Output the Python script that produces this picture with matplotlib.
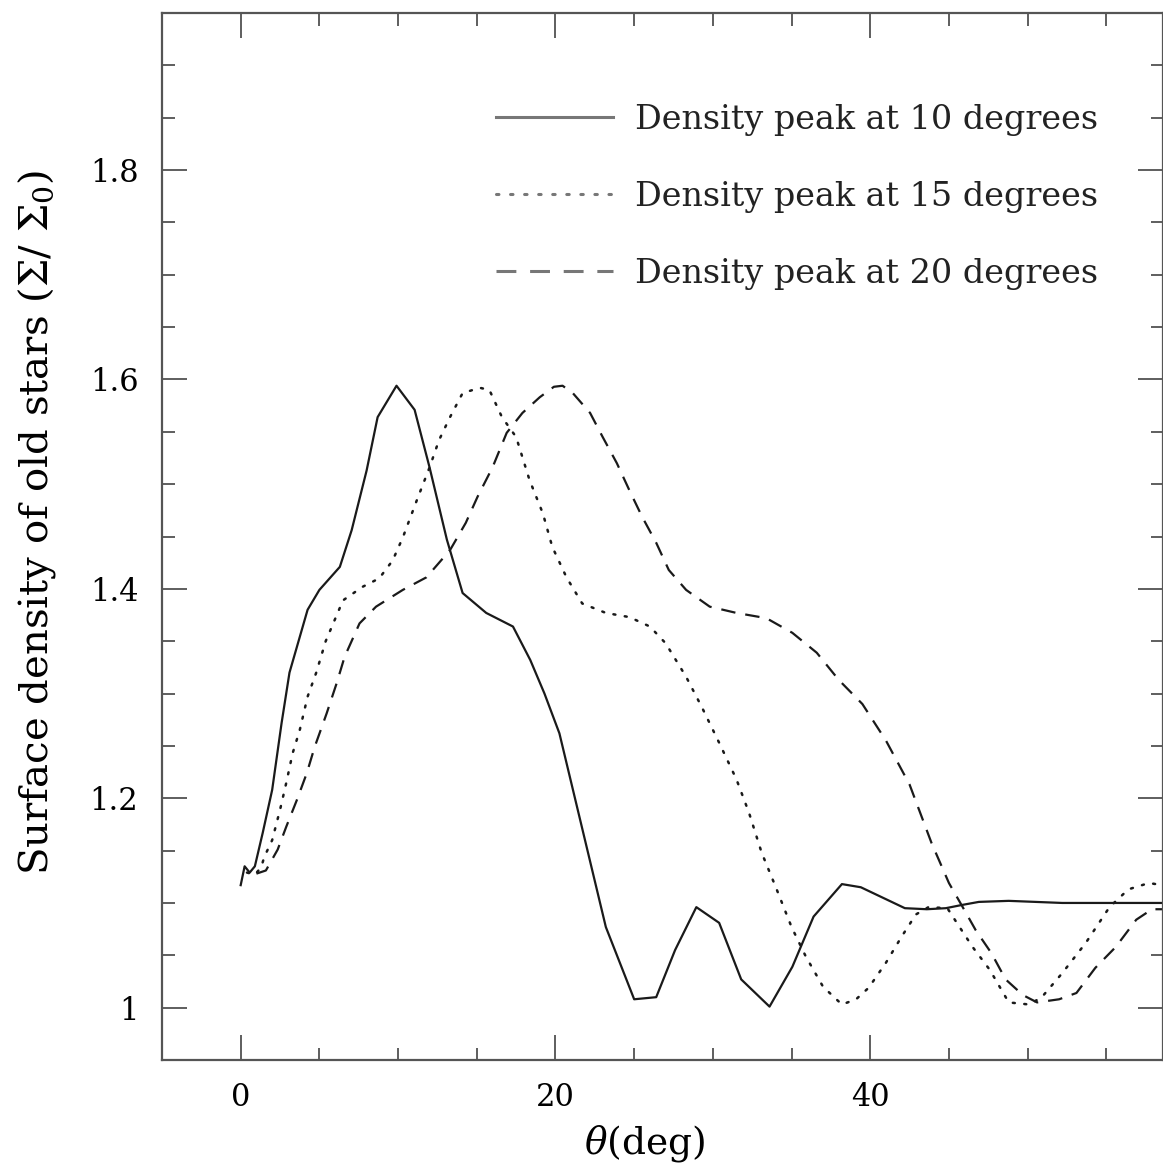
import numpy as np
import matplotlib
matplotlib.use("Agg")
import matplotlib.pyplot as plt
from matplotlib.ticker import MultipleLocator, FixedLocator, FixedFormatter

# density peak at 10 degrees (solid)
theta_10 = [0.0, 0.25, 0.57, 0.9, 1.4, 2.0, 2.6, 3.1, 4.25, 5.0, 6.3, 7.05, 8.0, 8.7,
            9.9, 11.05, 12.0, 13.1, 14.1, 15.6, 17.3, 18.4, 19.3, 20.25, 23.2, 25.0,
            26.4, 27.6, 28.95, 30.4, 31.8, 33.6, 35.05, 36.4, 38.2, 39.4, 40.8, 42.2,
            43.6, 44.8, 45.8, 46.9, 48.8, 52.2, 58.6]
sigma_10 = [1.117, 1.135, 1.129, 1.135, 1.167, 1.208, 1.272, 1.320, 1.380, 1.399, 1.421,
            1.456, 1.513, 1.564, 1.594, 1.571, 1.516, 1.447, 1.396, 1.377, 1.364, 1.332,
            1.300, 1.262, 1.077, 1.008, 1.010, 1.055, 1.096, 1.081, 1.027, 1.001, 1.039,
            1.087, 1.118, 1.115, 1.105, 1.095, 1.094, 1.095, 1.098, 1.101, 1.102, 1.100,
            1.100]

# density peak at 15 degrees (dotted)
theta_15 = [0.4, 0.9, 1.3, 1.5, 2.0, 2.5, 2.9, 3.3, 3.75, 4.25, 4.8, 5.4, 6.5, 7.75,
            8.8, 9.65, 10.3, 11.2, 12.0, 12.6, 13.3, 14.1, 15.2, 15.8, 16.6, 17.5,
            18.35, 19.2, 19.8, 20.7, 21.7, 23.2, 24.7, 26.0, 27.0, 28.3, 29.3, 30.4,
            31.5, 32.3, 33.1, 34.0, 35.0, 35.9, 37.0, 38.2, 39.1, 39.9, 41.0, 42.0,
            42.9, 43.7, 44.9, 45.5, 46.5, 47.6, 48.8, 50.1, 50.9, 52.2, 53.7, 55.2,
            56.4, 57.7, 58.6]
sigma_15 = [1.129, 1.127, 1.134, 1.144, 1.160, 1.189, 1.215, 1.243, 1.265, 1.297, 1.320,
            1.350, 1.389, 1.402, 1.410, 1.427, 1.449, 1.485, 1.516, 1.542, 1.564, 1.587,
            1.592, 1.590, 1.564, 1.545, 1.504, 1.472, 1.440, 1.411, 1.386, 1.377, 1.373,
            1.364, 1.348, 1.316, 1.287, 1.253, 1.218, 1.186, 1.148, 1.115, 1.077, 1.049,
            1.020, 1.003, 1.008, 1.019, 1.043, 1.068, 1.089, 1.096, 1.095, 1.081, 1.058,
            1.036, 1.005, 1.003, 1.010, 1.033, 1.062, 1.096, 1.113, 1.119, 1.117]

# density peak at 20 degrees (dashed)
theta_20 = [1.0, 1.6, 2.35, 2.9, 3.56, 4.2, 4.7, 5.46, 6.1, 6.6, 7.55, 8.6, 10.3, 11.8,
            13.3, 14.3, 15.05, 16.0, 16.9, 17.9, 19.0, 19.9, 20.45, 21.1, 22.2, 23.0,
            23.9, 24.7, 25.5, 26.4, 27.2, 28.3, 29.8, 31.5, 33.4, 35.05, 36.6, 38.0,
            39.5, 41.0, 42.5, 43.9, 45.0, 45.8, 46.7, 47.7, 48.6, 49.7, 50.6, 52.0,
            53.1, 54.3, 55.6, 56.9, 57.9, 58.6]
sigma_20 = [1.128, 1.131, 1.151, 1.173, 1.198, 1.224, 1.249, 1.281, 1.310, 1.335, 1.367,
            1.383, 1.399, 1.411, 1.437, 1.463, 1.488, 1.516, 1.549, 1.568, 1.583, 1.593,
            1.594, 1.587, 1.568, 1.545, 1.520, 1.494, 1.469, 1.444, 1.418, 1.399, 1.383,
            1.377, 1.372, 1.358, 1.339, 1.313, 1.290, 1.255, 1.213, 1.157, 1.119, 1.098,
            1.074, 1.052, 1.027, 1.012, 1.005, 1.008, 1.014, 1.038, 1.058, 1.084, 1.094,
            1.094]

y_ticks = [1.0, 1.2, 1.4, 1.6, 1.8]
y_labels = ["1", "1.2", "1.4", "1.6", "1.8"]
x_ticks = [0, 20, 40]
x_labels = ["0", "20", "40"]

plt.rcParams['font.family'] = ['DejaVu Serif']
plt.rcParams['mathtext.fontset'] = 'dejavuserif'

fig = plt.figure(figsize=(11.63, 11.74), dpi=100)
ax = fig.add_axes([162/1163, 1 - 1060/1174, 1 - 162/1163, (1060 - 13)/1174])

line_col = '#1a1a1a'
ax.plot(theta_10, sigma_10, color=line_col, lw=1.6, ls='-',
        label="Density peak at 10 degrees")
ax.plot(theta_15, sigma_15, color=line_col, lw=1.8, ls=(0, (0.8, 3.8)),
        dash_capstyle='round', label="Density peak at 15 degrees")
ax.plot(theta_20, sigma_20, color=line_col, lw=1.6, ls=(0, (6.5, 4.5)),
        label="Density peak at 20 degrees")

ax.set_xlim(-5, 58.6)
ax.set_ylim(0.95, 1.95)

ax.xaxis.set_major_locator(FixedLocator(x_ticks))
ax.xaxis.set_major_formatter(FixedFormatter(x_labels))
ax.xaxis.set_minor_locator(MultipleLocator(5))
ax.yaxis.set_major_locator(FixedLocator(y_ticks))
ax.yaxis.set_major_formatter(FixedFormatter(y_labels))
ax.yaxis.set_minor_locator(MultipleLocator(0.05))

spine_col = '#555555'
for s in ax.spines.values():
    s.set_color(spine_col)
    s.set_linewidth(1.6)

ax.tick_params(which='both', direction='in', top=True, right=True,
               color='#333333', width=1.1)
ax.tick_params(which='major', length=18)
ax.tick_params(which='minor', length=9)
ax.tick_params(axis='x', which='major', labelsize=22, pad=16)
ax.tick_params(axis='y', which='major', labelsize=22, pad=17)

ax.set_xlabel(r"$\theta$(deg)", fontsize=27)
ax.xaxis.set_label_coords(0.4825, -0.060)
ax.set_ylabel(r"Surface density of old stars ($\Sigma$/ $\Sigma_0$)", fontsize=29)
ax.yaxis.set_label_coords(-0.104, 0.514)

leg = ax.legend(loc='upper right', bbox_to_anchor=(0.935, 0.913), frameon=False,
                fontsize=24, handlelength=3.5, handletextpad=0.65, labelspacing=1.35,
                borderaxespad=0, borderpad=0, labelcolor='#222222')
for h in leg.get_lines():
    h.set_color('#777777')
    h.set_linewidth(2.2)

fig.savefig("out.png", dpi=100, facecolor='white')
